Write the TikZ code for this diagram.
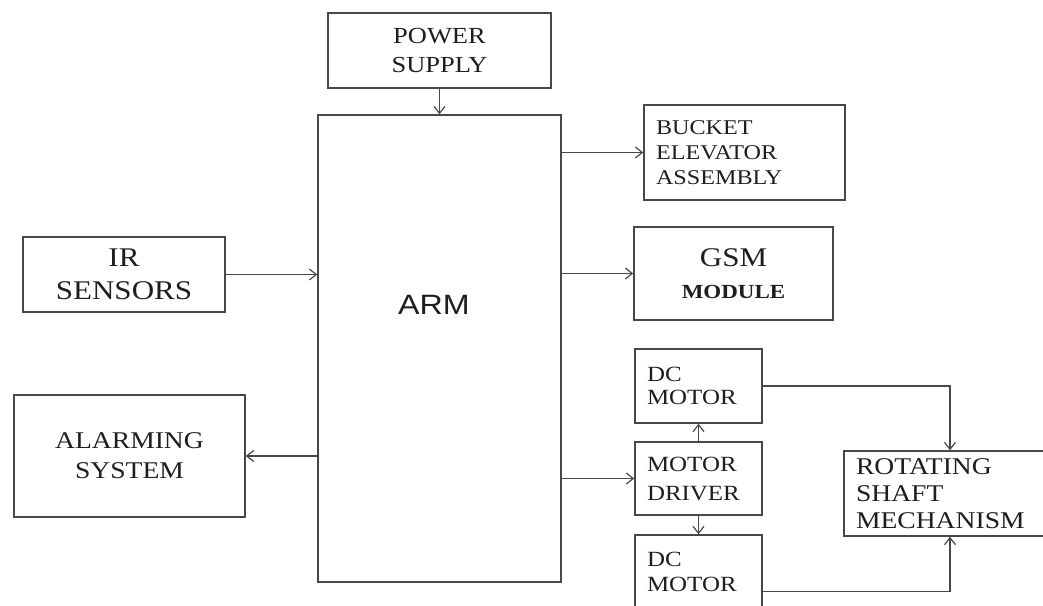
\documentclass[tikz,border=0pt]{standalone}
\usepackage{fontspec}
\setmainfont[FakeStretch=1.15]{Liberation Serif}
\newfontfamily\armfont[FakeStretch=1.15]{Liberation Sans}
\usepackage{tikz}
\usetikzlibrary{arrows.meta, positioning, calc}
\definecolor{grisLinea}{RGB}{72, 72, 72}
\definecolor{grisTexto}{RGB}{30, 30, 30}

\tikzset{
  bloque/.style={draw=grisLinea, line width=1.5pt, rectangle, inner sep=0pt,
    text=grisTexto, align=center},
  bloqueIzq/.style={bloque, align=left, inner xsep=12pt},
  flecha/.style={draw=grisLinea, line width=1.4pt,
    -{Straight Barb[length=7pt, width=11pt, line width=1.2pt]}},
}

\begin{document}
\begin{tikzpicture}[x=1pt, y=-1pt]
    \useasboundingbox (0,0) rectangle (1043,605);
    \clip (0,0) rectangle (1043,605);

    % Bloque central
    \node[bloque, minimum width=243pt, minimum height=467pt] (arm) at (439.5,348.5) {};
    \node[text=grisTexto, inner sep=0pt, font=\armfont\fontsize{28}{32}\selectfont] (armlbl) at (434,305) {ARM};

    % Entradas
    \node[bloque, minimum width=223pt, minimum height=75pt,
          font=\fontsize{23}{29}\selectfont] (psu) at (439.5,50.5) {POWER\\SUPPLY};
    \node[bloque, minimum width=202pt, minimum height=75pt,
          font=\fontsize{27}{33}\selectfont] (ir) at (124,274.5) {IR\\SENSORS};

    % Salidas
    \node[bloque, minimum width=231pt, minimum height=122pt,
          font=\fontsize{24}{30}\selectfont] (alarm) at (129.5,456) {ALARMING\\SYSTEM};
    \node[bloqueIzq, minimum width=201pt, minimum height=95pt, text width=177pt,
          font=\fontsize{21}{25}\selectfont] (bucket) at (744.5,152.5) {BUCKET\\ELEVATOR\\ASSEMBLY};
    \node[bloque, minimum width=199pt, minimum height=93pt,
          font=\fontsize{27}{32}\selectfont] (gsm) at (733.5,273.5)
          {GSM\\{\bfseries\fontsize{20}{32}\selectfont MODULE}};

    % Motores
    \node[bloqueIzq, minimum width=127pt, minimum height=74pt, text width=103pt,
          font=\fontsize{21.7}{23}\selectfont] (dc1) at (698.5,386) {DC\\MOTOR};
    \node[bloqueIzq, minimum width=127pt, minimum height=73pt, text width=103pt,
          font=\fontsize{21.7}{29}\selectfont] (drv) at (698.5,478.5) {MOTOR\\DRIVER};
    \node[bloqueIzq, minimum width=127pt, minimum height=74pt, text width=103pt,
          font=\fontsize{21.7}{25}\selectfont] (dc2) at (698.5,572) {DC\\MOTOR};
    \node[bloqueIzq, minimum width=212pt, minimum height=85pt, text width=188pt,
          inner xsep=11pt, font=\fontsize{24}{27}\selectfont] (shaft) at (950,493.5)
          {ROTATING\\SHAFT\\MECHANISM};

    % Conexiones
    \draw[flecha] (psu.south) -- (arm.north);
    \draw[flecha] (ir.east) -- (ir.east -| arm.west);
    \draw[flecha] (arm.west |- alarm.east) -- (alarm.east);
    \draw[flecha] (arm.east |- bucket.west) -- (bucket.west);
    \draw[flecha] (arm.east |- gsm.west) -- (gsm.west);
    \draw[flecha] (arm.east |- drv.west) -- (drv.west);
    \draw[flecha] (drv.north) -- (dc1.south);
    \draw[flecha] (drv.south) -- (dc2.north);
    \draw[flecha] (dc1.east) -| (shaft.north);
    \draw[flecha] ($(dc2.south east)+(0,-18)$) -| (shaft.south);
\end{tikzpicture}
\end{document}
